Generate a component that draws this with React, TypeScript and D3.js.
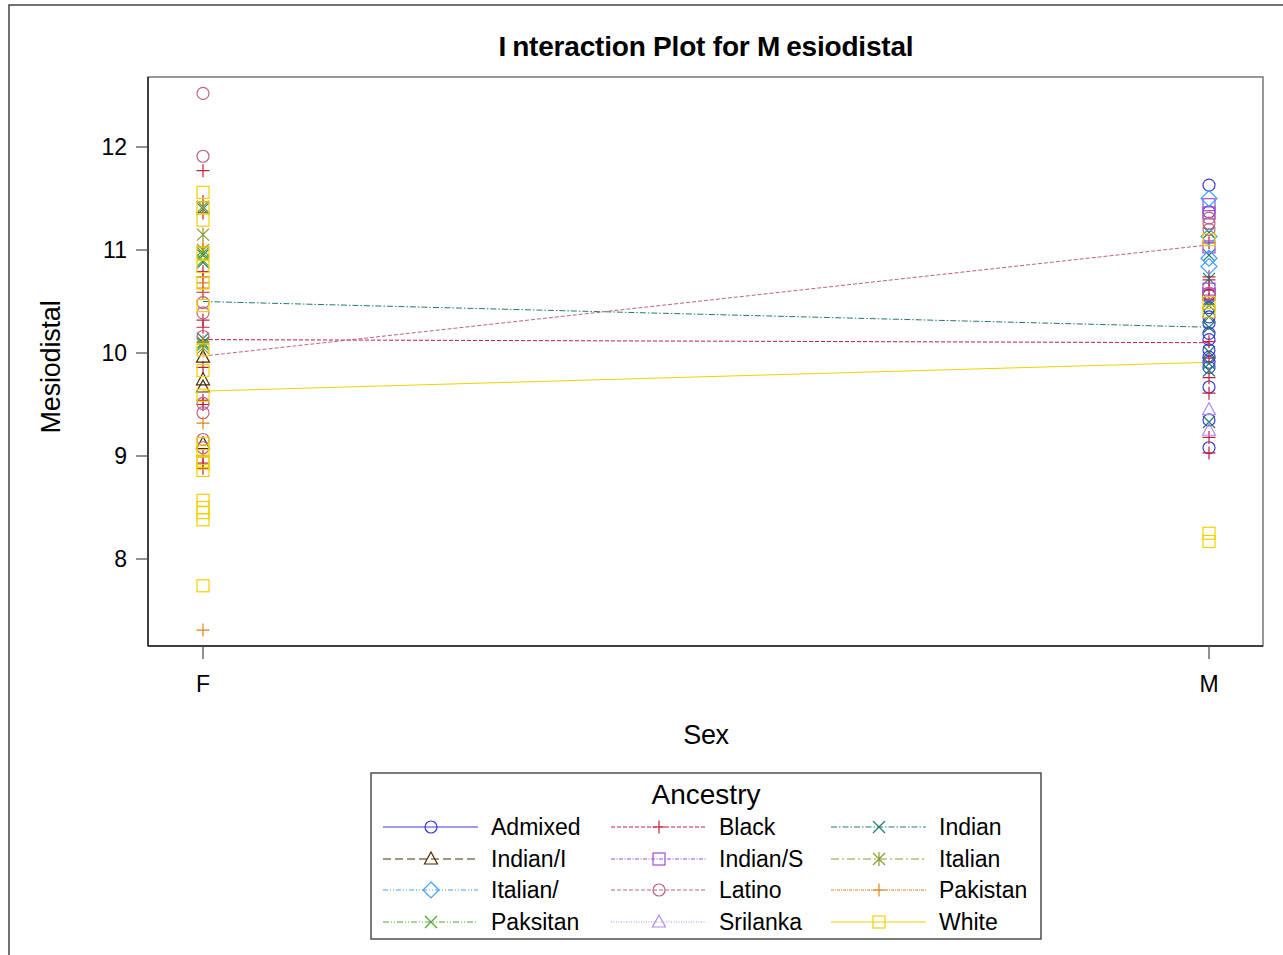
import React from "react";
import * as d3 from "d3";

// Ancestry groups, in legend order (row-major)
const ancestry = [
  "Admixed", "Black", "Indian",
  "Indian/I", "Indian/S", "Italian",
  "Italian/", "Latino", "Pakistan",
  "Paksitan", "Srilanka", "White",
];
const sexLevels = ["F", "M"];
const yTicks = [8, 9, 10, 11, 12];

// Individual Mesiodistal observations by ancestry and sex
const admixedF: number[] = [];
const admixedM = [11.63, 11.37, 10.56, 10.44, 10.35, 10.29, 10.19, 10.13, 10.03, 9.96, 9.91, 9.86, 9.67, 9.35, 9.08];
const blackF = [11.77, 11.47, 11.36, 10.79, 10.74, 10.59, 10.32, 10.25, 9.86, 9.54, 9.5, 9.0, 8.93, 8.88];
const blackM = [11.07, 10.74, 10.71, 10.61, 10.52, 10.11, 9.95, 9.76, 9.61, 9.18, 9.03];
const indianF = [11.4, 10.95, 10.88, 10.14, 10.1];
const indianM = [11.17, 10.95, 10.72, 10.5, 10.46, 10.35, 10.25, 10.01, 9.9, 9.83, 9.33];
const indianIF = [9.96, 9.74, 9.67, 9.12];
const indianIM: number[] = [];
const indianSF: number[] = [];
const indianSM = [11.44, 11.36, 11.03, 10.62, 10.57];
const italianF = [11.42, 11.15, 11.0, 10.05];
const italianM: number[] = [];
const italianSlashF: number[] = [];
const italianSlashM = [11.5, 11.13, 10.92, 10.84];
const latinoF = [12.52, 11.91, 10.49, 10.39, 10.16, 9.51, 9.42, 9.16, 9.08];
const latinoM = [11.31, 11.26, 11.2, 10.58];
const pakistanF = [11.03, 10.68, 10.63, 10.11, 9.32, 7.31];
const pakistanM: number[] = [];
const paksitanF = [10.97, 10.9, 10.08];
const paksitanM: number[] = [];
const srilankaF: number[] = [];
const srilankaM = [9.45, 9.25];
const whiteF = [11.56, 11.41, 11.29, 10.97, 10.84, 10.68, 10.46, 10.03, 9.83, 9.59, 9.12, 9.05, 8.95, 8.93, 8.86, 8.57, 8.5, 8.45, 8.38, 7.74];
const whiteM = [11.1, 10.49, 10.4, 8.25, 8.17];

// Group means (F, M) for ancestries observed in both sexes
const blackMean = [10.13, 10.1];
const indianMean = [10.5, 10.25];
const latinoMean = [9.97, 11.05];
const whiteMean = [9.63, 9.91];

const obsF = [admixedF, blackF, indianF, indianIF, indianSF, italianF, italianSlashF, latinoF, pakistanF, paksitanF, srilankaF, whiteF];
const obsM = [admixedM, blackM, indianM, indianIM, indianSM, italianM, italianSlashM, latinoM, pakistanM, paksitanM, srilankaM, whiteM];
const meanLines: { name: string; means: number[] }[] = [
  { name: "Black", means: blackMean },
  { name: "Indian", means: indianMean },
  { name: "Latino", means: latinoMean },
  { name: "White", means: whiteMean },
];

type Style = { color: string; symbol: string; dash: string };
const styles: Record<string, Style> = {
  "Admixed": { color: "#3a3ad6", symbol: "circle", dash: "" },
  "Black": { color: "#c2203c", symbol: "plus", dash: "4,2" },
  "Indian": { color: "#1e7a70", symbol: "x", dash: "6,2,1.5,2" },
  "Indian/I": { color: "#4e2a04", symbol: "triangle", dash: "8,4" },
  "Indian/S": { color: "#a04ed8", symbol: "square", dash: "4,1.5,1,1.5" },
  "Italian": { color: "#8a9a32", symbol: "asterisk", dash: "8,3,2,3" },
  "Italian/": { color: "#40a0ff", symbol: "diamond", dash: "5,2,1,2,1,2" },
  "Latino": { color: "#c06282", symbol: "circle", dash: "4,2" },
  "Pakistan": { color: "#e0821a", symbol: "plus", dash: "3,1,1,1" },
  "Paksitan": { color: "#4ea832", symbol: "x", dash: "6,2,1,2,1,2" },
  "Srilanka": { color: "#ae8cf0", symbol: "triangle", dash: "1,1.5" },
  "White": { color: "#f2d000", symbol: "square", dash: "" },
};

const FONT = "'Liberation Sans', Arial, Helvetica, sans-serif";

function Marker({ x, y, s }: { x: number; y: number; s: Style }) {
  const c = s.color;
  const common = { fill: "none", stroke: c, strokeWidth: 1.2 };
  switch (s.symbol) {
    case "circle":
      return <circle cx={x} cy={y} r={6} {...common} />;
    case "plus":
      return <path d={`M${x - 6.5},${y}H${x + 6.5}M${x},${y - 6.5}V${y + 6.5}`} {...common} />;
    case "x":
      return <path d={`M${x - 6},${y - 6}L${x + 6},${y + 6}M${x - 6},${y + 6}L${x + 6},${y - 6}`} {...common} />;
    case "asterisk":
      return <path d={`M${x - 6},${y - 6}L${x + 6},${y + 6}M${x - 6},${y + 6}L${x + 6},${y - 6}M${x},${y - 7}V${y + 7}`} {...common} />;
    case "triangle":
      return <path d={`M${x},${y - 7}L${x + 6.5},${y + 5}L${x - 6.5},${y + 5}Z`} {...common} />;
    case "square":
      return <rect x={x - 6} y={y - 6} width={12} height={12} {...common} />;
    case "diamond":
      return <path d={`M${x},${y - 8}L${x + 8},${y}L${x},${y + 8}L${x - 8},${y}Z`} {...common} />;
    default:
      return null;
  }
}

export default function App() {
  const W = 1283, H = 955;
  const plot = { left: 148, right: 1263, top: 77, bottom: 646 };
  const x = d3.scalePoint<string>().domain(sexLevels).range([203, 1209]);
  const y = d3.scaleLinear().domain([8, 12]).range([559, 147]);
  const line = d3.line<number>().x((_, i) => x(sexLevels[i]) as number).y((d) => y(d));

  const legendCols = [383, 611, 831];
  const legendRows = [827, 859, 890, 922];

  return (
    <svg width={W} height={H} style={{ position: "absolute", left: 0, top: 0, background: "#fff" }} fontFamily={FONT}>
      {/* outer frame */}
      <path d={`M9,${H}V5H${W}`} fill="none" stroke="#444" strokeWidth={1.5} />

      {/* title */}
      <text x={706} y={56} textAnchor="middle" fontSize={28} fontWeight="bold" letterSpacing={-0.2}>
        <tspan>I</tspan>
        <tspan dx={6}>nteraction Plot for M</tspan>
        <tspan dx={6}>esiodistal</tspan>
      </text>

      {/* plot box */}
      <rect x={plot.left} y={plot.top} width={plot.right - plot.left} height={plot.bottom - plot.top} fill="none" stroke="#777" strokeWidth={1.5} />
      <line x1={plot.left} x2={plot.left} y1={plot.top} y2={plot.bottom} stroke="#222" strokeWidth={1.5} />
      <line x1={plot.left} x2={plot.right} y1={plot.bottom} y2={plot.bottom} stroke="#222" strokeWidth={1.5} />

      {/* y axis */}
      {yTicks.map((t) => (
        <g key={t}>
          <line x1={plot.left - 12} x2={plot.left} y1={y(t)} y2={y(t)} stroke="#555" strokeWidth={1.3} />
          <text x={plot.left - 21} y={y(t) + 8} textAnchor="end" fontSize={23}>{t}</text>
        </g>
      ))}
      <text transform={`translate(60,367) rotate(-90)`} textAnchor="middle" fontSize={27} letterSpacing={-0.2}>Mesiodistal</text>

      {/* x axis */}
      {sexLevels.map((s) => (
        <g key={s}>
          <line x1={x(s)} x2={x(s)} y1={plot.bottom} y2={plot.bottom + 13} stroke="#555" strokeWidth={1.3} />
          <text x={x(s)} y={692} textAnchor="middle" fontSize={23}>{s}</text>
        </g>
      ))}
      <text x={706} y={744} textAnchor="middle" fontSize={27} letterSpacing={-0.4}>Sex</text>

      {/* mean lines */}
      {meanLines.map((m) => (
        <path key={m.name} d={line(m.means) as string} fill="none" stroke={styles[m.name].color} strokeWidth={1} strokeDasharray={styles[m.name].dash || undefined} />
      ))}

      {/* observations */}
      {ancestry.map((a, gi) => (
        <g key={a}>
          {obsF[gi].map((v, i) => <Marker key={"f" + i} x={x("F") as number} y={y(v)} s={styles[a]} />)}
          {obsM[gi].map((v, i) => <Marker key={"m" + i} x={x("M") as number} y={y(v)} s={styles[a]} />)}
        </g>
      ))}

      {/* legend */}
      <rect x={371} y={773} width={670} height={166} fill="none" stroke="#333" strokeWidth={1.3} />
      <text x={706} y={804} textAnchor="middle" fontSize={28} letterSpacing={0}>Ancestry</text>
      {ancestry.map((a, i) => {
        const cx = legendCols[i % 3];
        const cy = legendRows[Math.floor(i / 3)];
        const s = styles[a];
        return (
          <g key={a}>
            <line x1={cx} x2={cx + 95} y1={cy} y2={cy} stroke={s.color} strokeWidth={1} strokeDasharray={s.dash || undefined} />
            <Marker x={cx + 48} y={cy} s={s} />
            <text x={cx + 108} y={cy + 8} fontSize={23} letterSpacing={0}>{a}</text>
          </g>
        );
      })}
    </svg>
  );
}
